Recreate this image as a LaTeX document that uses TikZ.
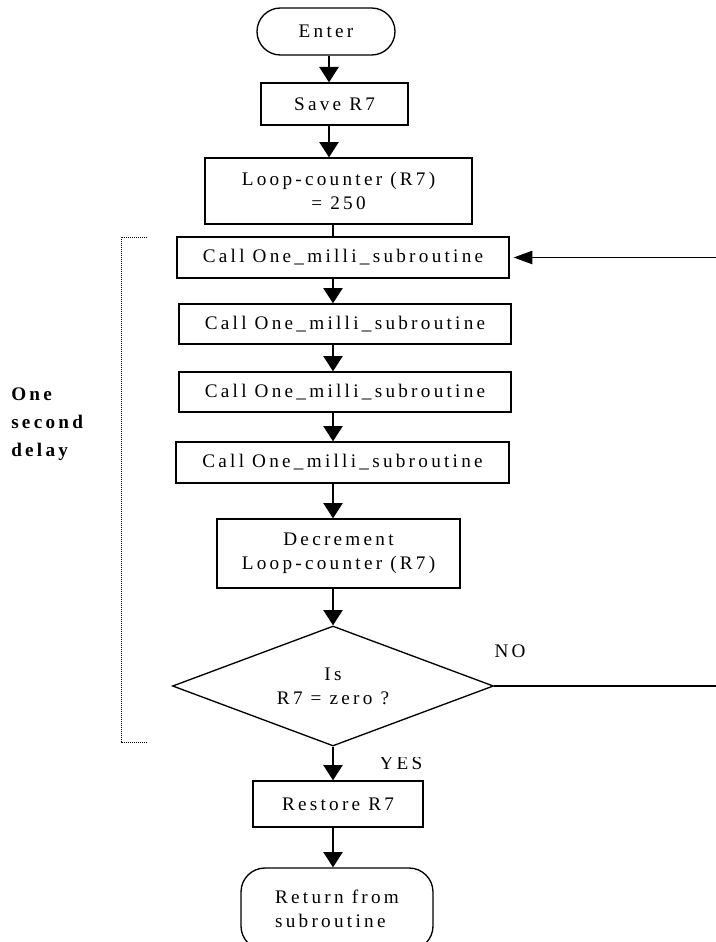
\documentclass[tikz,border=0pt]{standalone}
\usepackage{fontspec}
\setmainfont{Liberation Serif}[LetterSpace=17]
\usetikzlibrary{arrows.meta,shapes.geometric}
\begin{document}
\begin{tikzpicture}[x=0.75pt,y=-0.75pt,
  every node/.style={font=\fontsize{14.4pt}{18pt}\selectfont, inner sep=0pt},
  box/.style={draw, line width=1pt, rectangle, align=center},
  term/.style={draw, line width=1pt, rectangle, align=center},
  decision/.style={draw, line width=1pt, diamond, shape aspect=2.65, align=center},
  flow/.style={line width=1pt, -{Triangle[width=14.5pt,length=11.5pt]}},
  plain/.style={line width=1pt},
  bracket/.style={line width=0.7pt, dash pattern=on 0.8pt off 0.7pt},
  lbl/.style={font=\fontsize{14.4pt}{18pt}\selectfont}
]
\useasboundingbox (0,0) rectangle (715,942);
% axis coordinates
\coordinate (axA) at (329,0);
\coordinate (axB) at (333,0);
\coordinate (backx) at (740,0);
% nodes
\node[term, rounded corners=17.6pt, minimum width=103.5pt, minimum height=35.25pt] (enter) at (326,31.5) {Enter};
\node[box, minimum width=110.25pt, minimum height=31.5pt] (save) at (334.5,104) {Save R7};
\node[box, minimum width=200.25pt, minimum height=49.5pt] (loop) at (338.5,191) {Loop-counter (R7)\\= 250};
\node[box, minimum width=249pt, minimum height=30.75pt] (c1) at (343,257.5) {Call One\_milli\_subroutine};
\node[box, minimum width=249pt, minimum height=30pt] (c2) at (345,324) {Call One\_milli\_subroutine};
\node[box, minimum width=249pt, minimum height=30pt] (c3) at (345,392) {Call One\_milli\_subroutine};
\node[box, minimum width=249.75pt, minimum height=30.75pt] (c4) at (342.5,462.5) {Call One\_milli\_subroutine};
\node[box, minimum width=182.25pt, minimum height=51.75pt] (dec) at (338.5,553.5) {Decrement\\Loop-counter (R7)};
\node[decision, minimum width=240.75pt, minimum height=90pt] (dia) at (333,686) {Is\\R7 = zero ?};
\node[box, minimum width=127.5pt, minimum height=34.5pt] (rest) at (338,804) {Restore R7};
\node[term, rounded corners=18pt, minimum width=144pt, minimum height=61.5pt, align=left] (ret) at (337,909) {Return from\\subroutine};
% labels
\node[lbl] (no) at (510,651) {NO};
\begin{scope}
  \clip (360,757) rectangle (450,778);
  \node[lbl] (yes) at (401,763) {YES};
\end{scope}
\node[lbl, font=\fontsize{14.4pt}{21pt}\selectfont\bfseries, align=left, anchor=west] (osd) at (11,424) {One\\second\\delay};
% bracket
\coordinate (bt) at (147,237);
\coordinate (bb) at (147,742);
\draw[bracket] (bt) -- (121,237) -- (121,742) -- (bb);
% connectors
\draw[flow] (enter.south -| axA) -- (save.north -| axA);
\draw[flow] (save.south -| axA) -- (loop.north -| axA);
\draw[plain] (loop.south -| axB) -- (c1.north -| axB);
\draw[flow] (c1.south -| axB) -- (c2.north -| axB);
\draw[flow] (c2.south -| axB) -- (c3.north -| axB);
\draw[flow] (c3.south -| axB) -- (c4.north -| axB);
\draw[flow] (c4.south -| axB) -- (dec.north -| axB);
\draw[flow] (dec.south -| dia.north) -- (dia.north);
\draw[flow] (dia.south) -- (rest.north -| dia.south);
\draw[flow] (rest.south -| axB) -- (ret.north -| axB);
% loop back (vertical part lies beyond the right edge)
\draw[line width=1pt, -{Triangle[width=10pt,length=14pt]}] (dia.east) -- (dia.east -| backx) |- ([xshift=3pt]c1.east);
\end{tikzpicture}
\end{document}
